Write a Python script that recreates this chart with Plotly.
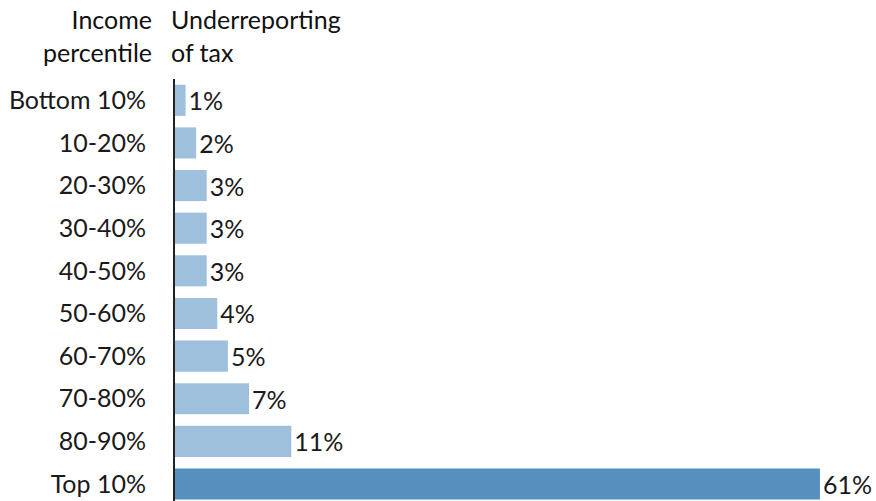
import plotly.graph_objects as go

categories = ["Bottom 10%", "10-20%", "20-30%", "30-40%", "40-50%", "50-60%",
              "60-70%", "70-80%", "80-90%", "Top 10%"]
values = [1, 2, 3, 3, 3, 4, 5, 7, 11, 61]
labels = [f"{v}%" for v in values]
colors = ["#9fc0dd"] * 9 + ["#5690bf"]

FONT = "Lato, Roboto, sans-serif"
FS = 25

fig = go.Figure(go.Bar(
    x=values, y=categories, orientation="h",
    marker=dict(color=colors, line=dict(width=0)),
    width=0.73,
    text=labels, textposition="outside", cliponaxis=False,
    textfont=dict(family=FONT, size=FS, color="#1a1a1a"),
))

fig.update_layout(
    width=876, height=501,
    margin=dict(l=175, r=0, t=79, b=0),
    paper_bgcolor="white", plot_bgcolor="white",
    showlegend=False,
    font=dict(family=FONT, size=FS, color="#1a1a1a"),
    xaxis=dict(range=[0, 66.3], visible=False, showgrid=False, zeroline=False,
               automargin=False),
    yaxis=dict(
        categoryorder="array", categoryarray=categories,
        range=[9.4, -0.5], automargin=False,
        showline=True, linecolor="#222222", linewidth=2,
        showgrid=False, zeroline=False,
        ticks="", ticklabelstandoff=22,
        tickfont=dict(family=FONT, size=FS, color="#1a1a1a"),
    ),
    annotations=[
        dict(text="Income<br>percentile", xref="paper", yref="paper", x=0, y=1,
             xanchor="right", yanchor="top", align="right", xshift=-21, yshift=77,
             showarrow=False, font=dict(family=FONT, size=FS, color="#111111")),
        dict(text="Underreporting<br>of tax", xref="paper", yref="paper", x=0, y=1,
             xanchor="left", yanchor="top", align="left", xshift=-6, yshift=77,
             showarrow=False, font=dict(family=FONT, size=FS, color="#111111")),
    ],
)

fig.write_html(
    "out.html",
    config={"displayModeBar": False},
    post_script="document.body.style.margin='0';document.body.style.overflow='hidden';",
)
